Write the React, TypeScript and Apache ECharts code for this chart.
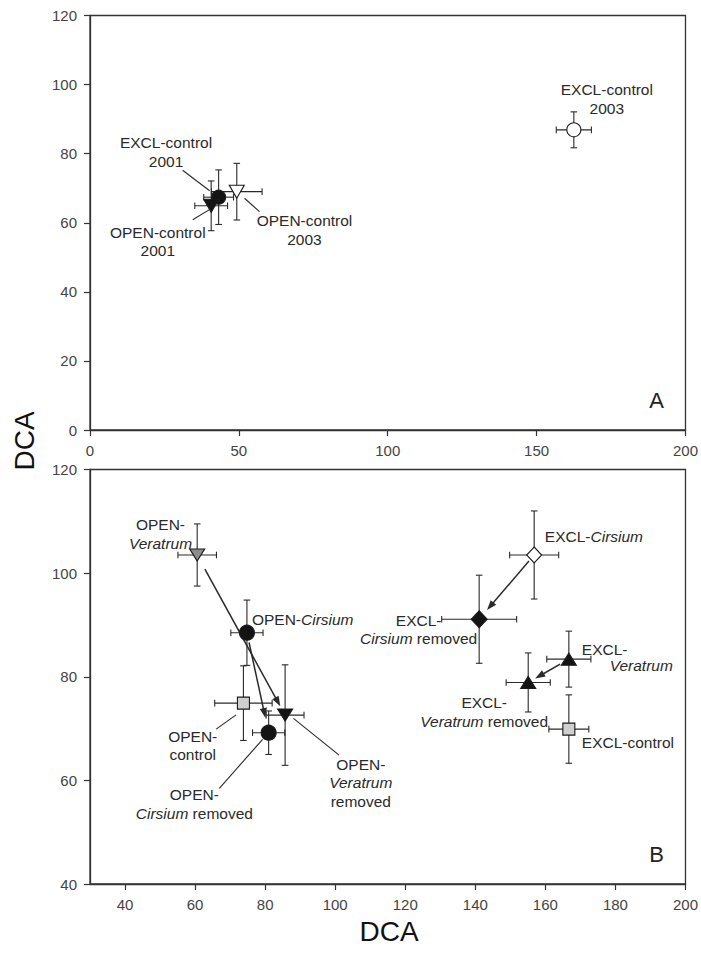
import React, { useEffect, useRef } from "react";
import * as echarts from "echarts";

const FONT = "'Liberation Sans', Arial, Helvetica, sans-serif";
const INK = "#2a2a2a";

// ---------- Panel A data ----------
const aNames = ["EXCL-control 2001", "OPEN-control 2001", "OPEN-control 2003", "EXCL-control 2003"];
const aX = [43.2, 40.7, 49.3, 162.5];
const aY = [67.4, 64.9, 69.0, 86.9];
const aXErr = [5.0, 5.5, 8.5, 5.9];
const aYErr = [7.9, 7.2, 8.2, 5.2];
const aXTicks = [0, 50, 100, 150, 200];
const aYTicks = [0, 20, 40, 60, 80, 100, 120];

// ---------- Panel B data ----------
const bNames = [
  "OPEN-Veratrum",
  "OPEN-Cirsium",
  "OPEN-control",
  "OPEN-Cirsium removed",
  "OPEN-Veratrum removed",
  "EXCL-Cirsium",
  "EXCL-Cirsium removed",
  "EXCL-Veratrum",
  "EXCL-Veratrum removed",
  "EXCL-control",
];
const bX = [60.6, 74.8, 73.8, 81.0, 85.7, 156.8, 141.1, 166.7, 155.1, 166.7];
const bY = [103.5, 88.5, 74.9, 69.2, 72.6, 103.5, 91.1, 83.4, 78.9, 69.9];
const bXErr = [5.5, 4.6, 8.2, 4.6, 5.4, 7.0, 10.7, 6.3, 6.3, 5.7];
const bYErr = [6.0, 6.3, 7.2, 4.2, 9.7, 8.5, 8.5, 5.4, 5.7, 6.6];
const bXTicks = [40, 60, 80, 100, 120, 140, 160, 180, 200];
const bYTicks = [40, 60, 80, 100, 120];
// arrows: from point index -> to point index
const bArrowPairs = [[0, 4], [1, 3], [5, 6], [7, 8]];

// ---------- Styling (markers, label placement) ----------
const BLACK = "#141414";
const aMarkers = [
  { symbol: "circle", size: 14, rotate: 0, fill: BLACK },
  { symbol: "triangle", size: [15, 13], rotate: 180, fill: BLACK },
  { symbol: "triangle", size: [15, 13], rotate: 180, fill: "#ffffff" },
  { symbol: "circle", size: 14, rotate: 0, fill: "#ffffff" },
];
const bMarkers = [
  { symbol: "triangle", size: [15, 12], rotate: 180, fill: "#8c8c8c" },
  { symbol: "circle", size: 15, rotate: 0, fill: BLACK },
  { symbol: "rect", size: 12, rotate: 0, fill: "#cfcfcf" },
  { symbol: "circle", size: 15, rotate: 0, fill: BLACK },
  { symbol: "triangle", size: [15, 12], rotate: 180, fill: BLACK },
  { symbol: "diamond", size: [15, 16], rotate: 0, fill: "#ffffff" },
  { symbol: "diamond", size: [16, 17], rotate: 0, fill: BLACK },
  { symbol: "triangle", size: [15, 12], rotate: 0, fill: BLACK },
  { symbol: "triangle", size: [15, 12], rotate: 0, fill: BLACK },
  { symbol: "rect", size: 12, rotate: 0, fill: "#cfcfcf" },
];
const bArrowGaps = [[16, 10], [10, 15], [8, 12], [10, 8]];

type LabelText = { text: string; dx: number; dy: number; align: string };
type LabelCfg = { texts: LabelText[]; leader?: number[] };

const aLabels: LabelCfg[] = [
  { texts: [{ text: "EXCL-control\n2001", dx: -52.6, dy: -45, align: "center" }], leader: [-36, -27, -9, -6.5] },
  { texts: [{ text: "OPEN-control\n2001", dx: -53.4, dy: 35.7, align: "center" }], leader: [-18.4, 14, -1, 3.3] },
  { texts: [{ text: "OPEN-control\n2003", dx: 67.7, dy: 38.3, align: "center" }], leader: [7.7, 6.6, 22.7, 20] },
  { texts: [{ text: "EXCL-control\n2003", dx: 33, dy: -31, align: "center" }] },
];
const bLabels: LabelCfg[] = [
  { texts: [{ text: "OPEN-\n{i|Veratrum}", dx: -36.7, dy: -21, align: "center" }] },
  { texts: [{ text: "OPEN-{i|Cirsium}", dx: 5, dy: -13.2, align: "left" }] },
  { texts: [{ text: "OPEN-\ncontrol", dx: -50.7, dy: 42.4, align: "center" }], leader: [-27.3, 26, -7.3, 11.7] },
  { texts: [{ text: "OPEN-\n{i|Cirsium} removed", dx: -74.3, dy: 71.5, align: "center" }], leader: [-49.3, 55.6, -6, 6.6] },
  { texts: [{ text: "OPEN-\n{i|Veratrum}\nremoved", dx: 75.7, dy: 67.7, align: "center" }], leader: [8.3, 3.3, 54, 40] },
  { texts: [{ text: "EXCL-{i|Cirsium}", dx: 10.7, dy: -18.3, align: "left" }] },
  {
    texts: [
      { text: "EXCL-", dx: -37.7, dy: 1.7, align: "right" },
      { text: "{i|Cirsium} removed", dx: -2, dy: 19, align: "right" },
    ],
  },
  {
    texts: [
      { text: "EXCL-", dx: 13, dy: -10, align: "left" },
      { text: "{i|Veratrum}", dx: 104, dy: 6.7, align: "right" },
    ],
  },
  { texts: [{ text: "EXCL-\n{i|Veratrum} removed", dx: -44, dy: 29.8, align: "center" }] },
  { texts: [{ text: "EXCL-control", dx: 13, dy: 13.4, align: "left" }] },
];

const LABEL_SIZE = 15.5;
const LINE_H = 18.5;

function errorBarRender(params: any, api: any) {
  const x = api.value(0), y = api.value(1), xe = api.value(2), ye = api.value(3);
  const l = api.coord([x - xe, y]);
  const r = api.coord([x + xe, y]);
  const t = api.coord([x, y + ye]);
  const b = api.coord([x, y - ye]);
  const c = 3.3;
  const st = { stroke: INK, lineWidth: 1.1 };
  return {
    type: "group",
    children: [
      { type: "line", shape: { x1: l[0], y1: l[1], x2: r[0], y2: r[1] }, style: st },
      { type: "line", shape: { x1: l[0], y1: l[1] - c, x2: l[0], y2: l[1] + c }, style: st },
      { type: "line", shape: { x1: r[0], y1: r[1] - c, x2: r[0], y2: r[1] + c }, style: st },
      { type: "line", shape: { x1: t[0], y1: t[1], x2: b[0], y2: b[1] }, style: st },
      { type: "line", shape: { x1: t[0] - c, y1: t[1], x2: t[0] + c, y2: t[1] }, style: st },
      { type: "line", shape: { x1: b[0] - c, y1: b[1], x2: b[0] + c, y2: b[1] }, style: st },
    ],
  };
}

function arrowRender(params: any, api: any) {
  const p1 = api.coord([api.value(0), api.value(1)]);
  const p2 = api.coord([api.value(2), api.value(3)]);
  const gaps = bArrowGaps[params.dataIndex];
  const dx = p2[0] - p1[0], dy = p2[1] - p1[1];
  const len = Math.hypot(dx, dy);
  const ux = dx / len, uy = dy / len;
  const s = [p1[0] + ux * gaps[0], p1[1] + uy * gaps[0]];
  const tip = [p2[0] - ux * gaps[1], p2[1] - uy * gaps[1]];
  const headLen = 10, headW = 3.6;
  const base = [tip[0] - ux * headLen, tip[1] - uy * headLen];
  const nx = -uy, ny = ux;
  return {
    type: "group",
    children: [
      { type: "line", shape: { x1: s[0], y1: s[1], x2: base[0] + ux * 2, y2: base[1] + uy * 2 }, style: { stroke: INK, lineWidth: 1.5 } },
      {
        type: "polygon",
        shape: {
          points: [
            tip,
            [base[0] + nx * headW, base[1] + ny * headW],
            [base[0] - nx * headW, base[1] - ny * headW],
          ],
        },
        style: { fill: INK },
      },
    ],
  };
}

function makeLabelRender(labels: LabelCfg[]) {
  return (params: any, api: any) => {
    const p = api.coord([api.value(0), api.value(1)]);
    const cfg = labels[params.dataIndex];
    const children: any[] = [];
    cfg.texts.forEach((t) => {
      children.push({
        type: "text",
        x: p[0] + t.dx,
        y: p[1] + t.dy,
        style: {
          text: t.text,
          align: t.align,
          verticalAlign: "middle",
          fontSize: LABEL_SIZE,
          fontFamily: FONT,
          fill: INK,
          lineHeight: LINE_H,
          rich: {
            i: { fontStyle: "italic", fontSize: LABEL_SIZE, fontFamily: FONT, fill: INK, lineHeight: LINE_H },
          },
        },
      });
    });
    if (cfg.leader) {
      const L = cfg.leader;
      children.push({
        type: "line",
        shape: { x1: p[0] + L[0], y1: p[1] + L[1], x2: p[0] + L[2], y2: p[1] + L[3] },
        style: { stroke: INK, lineWidth: 1.1 },
      });
    }
    return { type: "group", children };
  };
}

function axisCommon() {
  return {
    axisLine: { show: true, onZero: false, lineStyle: { color: "#333", width: 1.3 } },
    axisTick: { show: true, inside: false, length: 6, lineStyle: { color: "#333", width: 1.2 } },
    splitLine: { show: false },
    axisLabel: { color: "#444", fontSize: 15, fontFamily: FONT, margin: 13 },
  };
}

function buildOption() {
  const aErr = aX.map((x, i) => [x, aY[i], aXErr[i], aYErr[i]]);
  const bErr = bX.map((x, i) => [x, bY[i], bXErr[i], bYErr[i]]);
  const aPts = aX.map((x, i) => ({
    name: aNames[i],
    value: [x, aY[i]],
    symbol: aMarkers[i].symbol,
    symbolSize: aMarkers[i].size,
    symbolRotate: aMarkers[i].rotate,
    itemStyle: { color: aMarkers[i].fill, borderColor: "#1a1a1a", borderWidth: 1.1, opacity: 1 },
  }));
  const bPts = bX.map((x, i) => ({
    name: bNames[i],
    value: [x, bY[i]],
    symbol: bMarkers[i].symbol,
    symbolSize: bMarkers[i].size,
    symbolRotate: bMarkers[i].rotate,
    itemStyle: { color: bMarkers[i].fill, borderColor: "#1a1a1a", borderWidth: 1.1, opacity: 1 },
  }));
  const arrows = bArrowPairs.map(([f, t]) => [bX[f], bY[f], bX[t], bY[t]]);

  const ax = axisCommon();
  return {
    animation: false,
    backgroundColor: "#ffffff",
    grid: [
      { left: 90, top: 15.5, width: 598, height: 414.5, show: true, borderColor: "#333", borderWidth: 1.3 },
      { left: 90, top: 469.5, width: 598, height: 414.5, show: true, borderColor: "#333", borderWidth: 1.3 },
    ],
    xAxis: [
      { ...ax, type: "value", gridIndex: 0, min: 0, max: 200, interval: 50,
        axisLabel: { ...ax.axisLabel, customValues: aXTicks }, axisTick: { ...ax.axisTick, customValues: aXTicks } },
      { ...ax, type: "value", gridIndex: 1, min: 30, max: 200,
        axisLabel: { ...ax.axisLabel, customValues: bXTicks }, axisTick: { ...ax.axisTick, customValues: bXTicks } },
    ],
    yAxis: [
      { ...ax, type: "value", gridIndex: 0, min: 0, max: 120, interval: 20,
        axisLabel: { ...ax.axisLabel, customValues: aYTicks }, axisTick: { ...ax.axisTick, customValues: aYTicks } },
      { ...ax, type: "value", gridIndex: 1, min: 40, max: 120, interval: 20,
        axisLabel: { ...ax.axisLabel, customValues: bYTicks }, axisTick: { ...ax.axisTick, customValues: bYTicks } },
    ],
    series: [
      { type: "custom", name: "errA", xAxisIndex: 0, yAxisIndex: 0, renderItem: errorBarRender, data: aErr,
        encode: { x: 0, y: 1 }, silent: true, z: 1, clip: false },
      { type: "custom", name: "errB", xAxisIndex: 1, yAxisIndex: 1, renderItem: errorBarRender, data: bErr,
        encode: { x: 0, y: 1 }, silent: true, z: 1, clip: false },
      { type: "custom", name: "arrowsB", xAxisIndex: 1, yAxisIndex: 1, renderItem: arrowRender, data: arrows,
        encode: { x: [0, 2], y: [1, 3] }, silent: true, z: 2, clip: false },
      { type: "scatter", name: "A", xAxisIndex: 0, yAxisIndex: 0, data: aPts, z: 3, silent: true },
      { type: "scatter", name: "B", xAxisIndex: 1, yAxisIndex: 1, data: bPts, z: 3, silent: true },
      { type: "custom", name: "labelsA", xAxisIndex: 0, yAxisIndex: 0, renderItem: makeLabelRender(aLabels),
        data: aX.map((x, i) => [x, aY[i]]), encode: { x: 0, y: 1 }, silent: true, z: 4, clip: false },
      { type: "custom", name: "labelsB", xAxisIndex: 1, yAxisIndex: 1, renderItem: makeLabelRender(bLabels),
        data: bX.map((x, i) => [x, bY[i]]), encode: { x: 0, y: 1 }, silent: true, z: 4, clip: false },
    ],
    graphic: [
      { type: "text", x: 656.7, y: 400, style: { text: "A", align: "center", verticalAlign: "middle", fontSize: 22, fontFamily: FONT, fill: "#222" } },
      { type: "text", x: 656.7, y: 854, style: { text: "B", align: "center", verticalAlign: "middle", fontSize: 22, fontFamily: FONT, fill: "#222" } },
      { type: "text", x: 389, y: 931, style: { text: "DCA", align: "center", verticalAlign: "middle", fontSize: 28, fontFamily: FONT, fill: "#111" } },
      { type: "text", x: 24, y: 441, rotation: Math.PI / 2, style: { text: "DCA", align: "center", verticalAlign: "middle", fontSize: 28, fontFamily: FONT, fill: "#111" } },
    ],
  };
}

export default function App() {
  const ref = useRef<HTMLDivElement>(null);
  useEffect(() => {
    if (!ref.current) return;
    const chart = echarts.init(ref.current, null, { renderer: "svg" });
    chart.setOption(buildOption() as any);
    return () => chart.dispose();
  }, []);
  return (
    <div
      ref={ref}
      style={{ position: "absolute", left: 0, top: 0, width: 701, height: 953, background: "#ffffff" }}
    />
  );
}
